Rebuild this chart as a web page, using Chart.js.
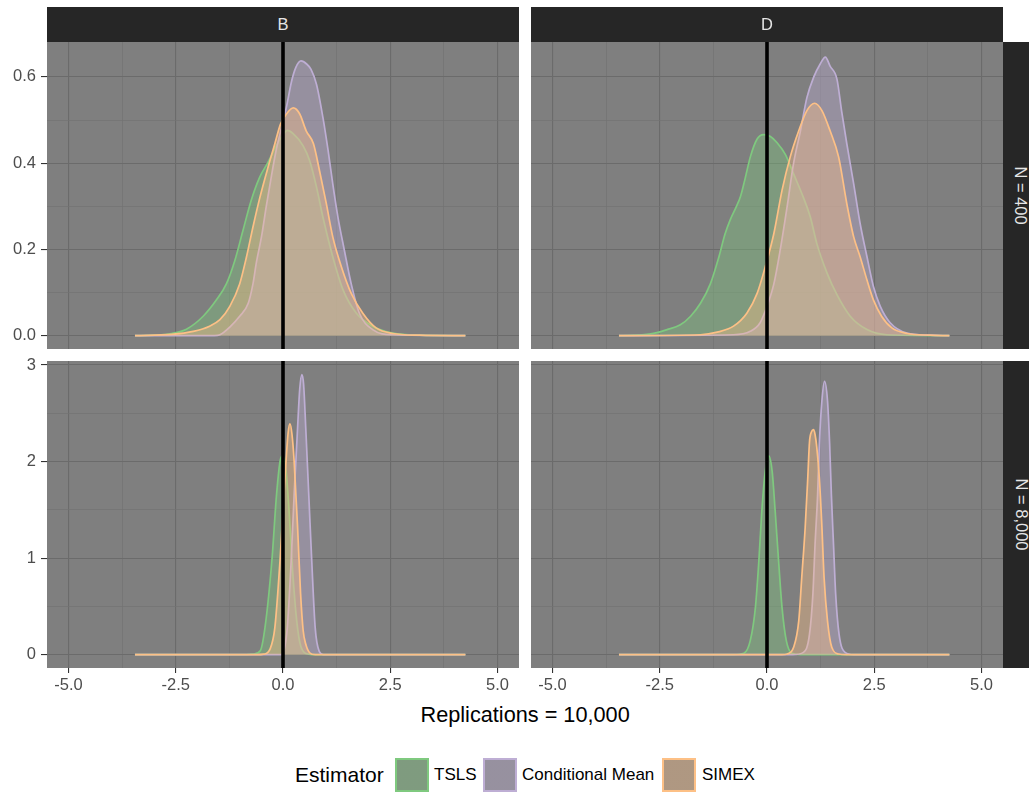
<!DOCTYPE html>
<html>
<head>
<meta charset="utf-8">
<script src="https://cdn.jsdelivr.net/npm/chart.js@4.4.1/dist/chart.umd.min.js"></script>
<style>
  html, body { margin: 0; padding: 0; }
  body { width: 1029px; height: 797px; background: #ffffff; position: relative; overflow: hidden;
         font-family: "Liberation Sans", Arial, Helvetica, sans-serif; }
  .cv { position: absolute; }
  .strip { position: absolute; background: #262626; color: #e5e5e5; font-size: 16.5px;
           display: flex; align-items: center; justify-content: center; overflow: hidden; }
  .strip.r span { transform: rotate(90deg); white-space: nowrap; display: inline-block; }
  .title { position: absolute; color: #000; font-size: 21.7px; white-space: nowrap; }
  .lgtitle { position: absolute; color: #000; font-size: 21px; white-space: nowrap; }
  .lglabel { position: absolute; color: #000; font-size: 17px; white-space: nowrap; }
  .key { position: absolute; width: 30px; height: 30px; border: 2px solid; }
</style>
</head>
<body>
<script>
// ---------------- data ----------------
const facetCols = ['B', 'D'];
const facetRows = ['N = 400', 'N = 8,000'];
const estimators = ['TSLS', 'Conditional Mean', 'SIMEX'];
const axisTitle = 'Replications = 10,000';
const legendTitle = 'Estimator';

const xMajor = [-5, -2.5, 0, 2.5, 5];
const xMinor = [-3.75, -1.25, 1.25, 3.75];
const xTickLabels = ['-5.0', '-2.5', '0.0', '2.5', '5.0'];
const yMajorTop = [0, 0.2, 0.4, 0.6];
const yMinorTop = [0.1, 0.3, 0.5];
const yTickLabelsTop = ['0.0', '0.2', '0.4', '0.6'];
const yMajorBottom = [0, 1, 2, 3];
const yMinorBottom = [0.5, 1.5, 2.5];
const yTickLabelsBottom = ['0', '1', '2', '3'];
const refLineX = 0;
const xLimits = [-5.5, 5.5];
const yLimitsTop = [-0.031, 0.681];
const yLimitsBottom = [-0.138, 3.041];

// density curves [x, density]
const B400_TSLS = [[-3.45,0],[-3.0,0.001],[-2.6,0.005],[-2.25,0.015],[-1.86,0.045],[-1.55,0.083],[-1.32,0.12],[-1.12,0.175],[-0.93,0.245],[-0.74,0.314],[-0.54,0.368],[-0.35,0.402],[-0.16,0.44],[0,0.466],[0.1,0.476],[0.23,0.469],[0.47,0.44],[0.62,0.406],[0.78,0.345],[0.93,0.275],[1.16,0.183],[1.40,0.106],[1.71,0.052],[2.09,0.022],[2.56,0.006],[3.18,0.001],[4.25,0]];
const B400_CM = [[-3.45,0],[-1.6,0],[-1.47,0.002],[-1.24,0.02],[-1.01,0.045],[-0.81,0.075],[-0.70,0.12],[-0.62,0.17],[-0.50,0.23],[-0.39,0.30],[-0.27,0.37],[-0.16,0.43],[-0.04,0.48],[0.08,0.53],[0.2,0.59],[0.3,0.622],[0.42,0.637],[0.55,0.63],[0.65,0.618],[0.78,0.583],[0.93,0.506],[1.05,0.43],[1.16,0.352],[1.28,0.275],[1.43,0.198],[1.59,0.12],[1.78,0.052],[2.09,0.014],[2.56,0.002],[4.25,0]];
const B400_SIMEX = [[-3.45,0],[-2.6,0.003],[-2.09,0.01],[-1.71,0.022],[-1.47,0.037],[-1.24,0.068],[-1.01,0.12],[-0.85,0.183],[-0.70,0.252],[-0.54,0.32],[-0.35,0.39],[-0.19,0.445],[-0.06,0.49],[0.08,0.514],[0.24,0.528],[0.39,0.514],[0.54,0.475],[0.71,0.445],[0.85,0.383],[1.01,0.306],[1.16,0.229],[1.36,0.16],[1.59,0.098],[1.86,0.052],[2.17,0.018],[2.56,0.005],[3.18,0.001],[4.25,0]];

const D400_TSLS = [[-3.45,0],[-2.71,0.004],[-2.33,0.014],[-2.02,0.025],[-1.78,0.045],[-1.55,0.075],[-1.32,0.12],[-1.12,0.183],[-0.98,0.235],[-0.86,0.268],[-0.72,0.298],[-0.62,0.322],[-0.52,0.36],[-0.39,0.414],[-0.23,0.456],[-0.08,0.466],[0.08,0.462],[0.23,0.448],[0.43,0.42],[0.62,0.375],[0.85,0.32],[1.01,0.275],[1.16,0.214],[1.40,0.145],[1.63,0.095],[1.94,0.045],[2.33,0.014],[2.79,0.002],[4.25,0]];
const D400_CM = [[-3.45,0],[-0.78,0.002],[-0.39,0.01],[-0.16,0.03],[0,0.068],[0.16,0.12],[0.31,0.2],[0.47,0.3],[0.62,0.4],[0.78,0.475],[0.93,0.552],[1.09,0.6],[1.24,0.63],[1.36,0.646],[1.47,0.625],[1.63,0.595],[1.74,0.52],[1.86,0.445],[2.02,0.352],[2.17,0.26],[2.33,0.183],[2.48,0.114],[2.64,0.068],[2.87,0.03],[3.26,0.006],[3.8,0.001],[4.25,0]];
const D400_SIMEX = [[-3.45,0],[-1.55,0.002],[-1.16,0.008],[-0.78,0.022],[-0.47,0.052],[-0.23,0.098],[-0.04,0.16],[0.16,0.237],[0.35,0.337],[0.54,0.414],[0.74,0.475],[0.93,0.522],[1.11,0.539],[1.28,0.522],[1.47,0.475],[1.67,0.414],[1.86,0.306],[2.02,0.229],[2.17,0.183],[2.33,0.129],[2.48,0.083],[2.67,0.045],[2.91,0.018],[3.26,0.005],[3.8,0.001],[4.25,0]];

const B8000_TSLS = [[-3.45,0],[-0.85,0],[-0.7,0.005],[-0.53,0.04],[-0.42,0.28],[-0.26,0.97],[-0.15,1.66],[-0.07,2.0],[-0.02,2.06],[0.06,1.95],[0.14,1.5],[0.22,0.9],[0.32,0.35],[0.42,0.08],[0.6,0.005],[0.75,0],[4.25,0]];
const B8000_CM = [[-3.45,0],[-0.05,0],[0.02,0.04],[0.10,0.28],[0.19,0.97],[0.26,1.66],[0.34,2.35],[0.39,2.75],[0.44,2.90],[0.48,2.8],[0.53,2.35],[0.60,1.66],[0.67,0.97],[0.75,0.28],[0.84,0.04],[0.95,0],[4.25,0]];
const B8000_SIMEX = [[-3.45,0],[-0.6,0],[-0.45,0.005],[-0.3,0.06],[-0.19,0.28],[-0.07,0.97],[0.0,1.5],[0.07,2.0],[0.12,2.3],[0.163,2.39],[0.21,2.28],[0.26,2.0],[0.34,1.32],[0.41,0.63],[0.47,0.25],[0.53,0.11],[0.62,0.02],[0.75,0],[4.25,0]];

const D8000_TSLS = [[-3.45,0],[-0.78,0],[-0.54,0.014],[-0.39,0.145],[-0.27,0.49],[-0.19,0.97],[-0.12,1.49],[-0.04,1.90],[0.04,2.06],[0.12,1.90],[0.19,1.49],[0.27,0.97],[0.35,0.49],[0.45,0.145],[0.58,0.014],[0.78,0],[4.25,0]];
const D8000_CM = [[-3.45,0],[0.6,0],[0.85,0.024],[0.99,0.21],[1.07,0.63],[1.12,1.14],[1.18,1.66],[1.22,2.18],[1.28,2.63],[1.34,2.83],[1.41,2.63],[1.46,2.18],[1.50,1.66],[1.55,1.14],[1.60,0.63],[1.68,0.21],[1.82,0.024],[2.02,0],[4.25,0]];
const D8000_SIMEX = [[-3.45,0],[0.35,0],[0.47,0.007],[0.62,0.076],[0.74,0.35],[0.81,0.80],[0.89,1.32],[0.95,1.83],[0.99,2.2],[1.04,2.31],[1.085,2.33],[1.12,2.28],[1.16,2.15],[1.22,1.83],[1.28,1.32],[1.33,0.80],[1.41,0.35],[1.51,0.076],[1.67,0.007],[1.85,0],[4.25,0]];

// ---------------- styling ----------------
const lineColors = ['#7FC97F', '#BEAED4', '#FDC086'];
const fillColors = ['rgba(127,201,127,0.38)', 'rgba(190,174,212,0.38)', 'rgba(253,192,134,0.38)'];
const FONT = '"Liberation Sans", Arial, Helvetica, sans-serif';

const panels = [
  { col: 0, row: 0, series: [B400_TSLS, B400_CM, B400_SIMEX], left: 0,   top: 22,  width: 519, height: 347, padTop: 20, padBottom: 20, yW: 47, xH: 0 },
  { col: 1, row: 0, series: [D400_TSLS, D400_CM, D400_SIMEX], left: 531, top: 22,  width: 472, height: 347, padTop: 20, padBottom: 20, yW: 0,  xH: 0 },
  { col: 0, row: 1, series: [B8000_TSLS, B8000_CM, B8000_SIMEX], left: 0,   top: 341, width: 519, height: 357, padTop: 20, padBottom: 0, yW: 47, xH: 30 },
  { col: 1, row: 1, series: [D8000_TSLS, D8000_CM, D8000_SIMEX], left: 531, top: 341, width: 472, height: 357, padTop: 20, padBottom: 0, yW: 0,  xH: 30 }
];

const isIn = (v, arr) => arr.findIndex(m => Math.abs(m - v) < 1e-9);

const bgPlugin = {
  id: 'panelBg',
  beforeDraw(chart) {
    const { ctx, chartArea: a } = chart;
    ctx.save();
    ctx.fillStyle = '#7f7f7f';
    ctx.fillRect(a.left, a.top, a.right - a.left, a.bottom - a.top);
    ctx.restore();
  }
};
const refPlugin = {
  id: 'refLine',
  afterDatasetsDraw(chart) {
    const { ctx, chartArea: a } = chart;
    const x = chart.scales.x.getPixelForValue(refLineX);
    ctx.save();
    ctx.beginPath();
    ctx.strokeStyle = '#000000';
    ctx.lineWidth = 3.6;
    ctx.moveTo(x, a.top);
    ctx.lineTo(x, a.bottom);
    ctx.stroke();
    ctx.restore();
  }
};

panels.forEach((p) => {
  const canvas = document.createElement('canvas');
  canvas.className = 'cv';
  canvas.width = p.width; canvas.height = p.height;
  canvas.style.left = p.left + 'px'; canvas.style.top = p.top + 'px';
  canvas.style.width = p.width + 'px'; canvas.style.height = p.height + 'px';
  document.body.appendChild(canvas);

  const yMajor = p.row === 0 ? yMajorTop : yMajorBottom;
  const yMinor = p.row === 0 ? yMinorTop : yMinorBottom;
  const yLabels = p.row === 0 ? yTickLabelsTop : yTickLabelsBottom;
  const yLim = p.row === 0 ? yLimitsTop : yLimitsBottom;
  const showY = p.yW > 0;
  const showX = p.xH > 0;

  const datasets = p.series.map((pts, k) => ({
    label: estimators[k],
    data: pts.map(([x, y]) => ({ x, y })),
    borderColor: lineColors[k],
    backgroundColor: fillColors[k],
    borderWidth: 1.7,
    fill: 'origin',
    pointRadius: 0,
    cubicInterpolationMode: 'monotone',
    order: 3 - k
  }));

  new Chart(canvas, {
    type: 'line',
    data: { datasets },
    plugins: [bgPlugin, refPlugin],
    options: {
      responsive: false,
      animation: false,
      devicePixelRatio: 1,
      layout: { padding: { top: p.padTop, bottom: p.padBottom, left: 0, right: 0 } },
      plugins: { legend: { display: false }, tooltip: { enabled: false } },
      scales: {
        x: {
          type: 'linear', min: xLimits[0], max: xLimits[1],
          afterBuildTicks: s => { s.ticks = [...xMajor, ...xMinor].sort((a, b) => a - b).map(v => ({ value: v })); },
          afterFit: s => { s.height = p.xH; s.paddingLeft = 0; s.paddingRight = 0; s.paddingTop = 0; s.paddingBottom = 0; },
          border: { display: false },
          grid: {
            color: c => isIn(c.tick.value, xMajor) >= 0 ? '#6b6b6b' : '#737373',
            lineWidth: c => isIn(c.tick.value, xMajor) >= 0 ? 1.1 : 0.7,
            drawTicks: showX, tickLength: 5,
            tickColor: c => isIn(c.tick.value, xMajor) >= 0 ? '#333333' : 'rgba(0,0,0,0)',
            tickWidth: 1.1
          },
          ticks: {
            display: showX, autoSkip: false, maxRotation: 0, padding: 3,
            color: '#4d4d4d', font: { family: FONT, size: 16.5 },
            callback: v => { const j = isIn(v, xMajor); return j >= 0 ? xTickLabels[j] : ''; }
          }
        },
        y: {
          type: 'linear', min: yLim[0], max: yLim[1],
          afterBuildTicks: s => { s.ticks = [...yMajor, ...yMinor].sort((a, b) => a - b).map(v => ({ value: v })); },
          afterFit: s => { s.width = p.yW; s.paddingLeft = 0; s.paddingRight = 0; s.paddingTop = 0; s.paddingBottom = 0; },
          border: { display: false },
          grid: {
            color: c => isIn(c.tick.value, yMajor) >= 0 ? '#6b6b6b' : '#737373',
            lineWidth: c => isIn(c.tick.value, yMajor) >= 0 ? 1.1 : 0.7,
            drawTicks: showY, tickLength: 6,
            tickColor: c => isIn(c.tick.value, yMajor) >= 0 ? '#333333' : 'rgba(0,0,0,0)',
            tickWidth: 1.1
          },
          ticks: {
            display: showY, autoSkip: false, padding: 5,
            color: '#4d4d4d', font: { family: FONT, size: 16.5 },
            callback: v => { const j = isIn(v, yMajor); return j >= 0 ? yLabels[j] : ''; }
          }
        }
      }
    }
  });
});

// ---------------- strips, titles, legend (HTML text) ----------------
function addDiv(cls, text, style) {
  const d = document.createElement('div');
  d.className = cls;
  if (cls.indexOf('strip r') === 0) { const s = document.createElement('span'); s.textContent = text; d.appendChild(s); }
  else d.textContent = text;
  Object.assign(d.style, style);
  document.body.appendChild(d);
  return d;
}
addDiv('strip', facetCols[0], { left: '47px', top: '7px', width: '472px', height: '35px' });
addDiv('strip', facetCols[1], { left: '531px', top: '7px', width: '472px', height: '35px' });
addDiv('strip r', facetRows[0], { left: '1003px', top: '42px', width: '35px', height: '307px' });
addDiv('strip r', facetRows[1], { left: '1003px', top: '361px', width: '35px', height: '307px' });

const t = addDiv('title', axisTitle, { top: '702px' });
t.style.left = (525 - t.offsetWidth / 2) + 'px';

addDiv('lgtitle', legendTitle, { left: '295px', top: '763px' });
const keyLefts = [395, 483, 662];
const labelLefts = [434, 522, 702];
estimators.forEach((name, k) => {
  const key = document.createElement('div');
  key.className = 'key';
  key.style.left = keyLefts[k] + 'px';
  key.style.top = '758px';
  key.style.borderColor = lineColors[k];
  key.style.background = 'linear-gradient(' + fillColors[k] + ',' + fillColors[k] + '), #7f7f7f';
  document.body.appendChild(key);
  addDiv('lglabel', name, { left: labelLefts[k] + 'px', top: '765px' });
});
</script>
</body>
</html>
